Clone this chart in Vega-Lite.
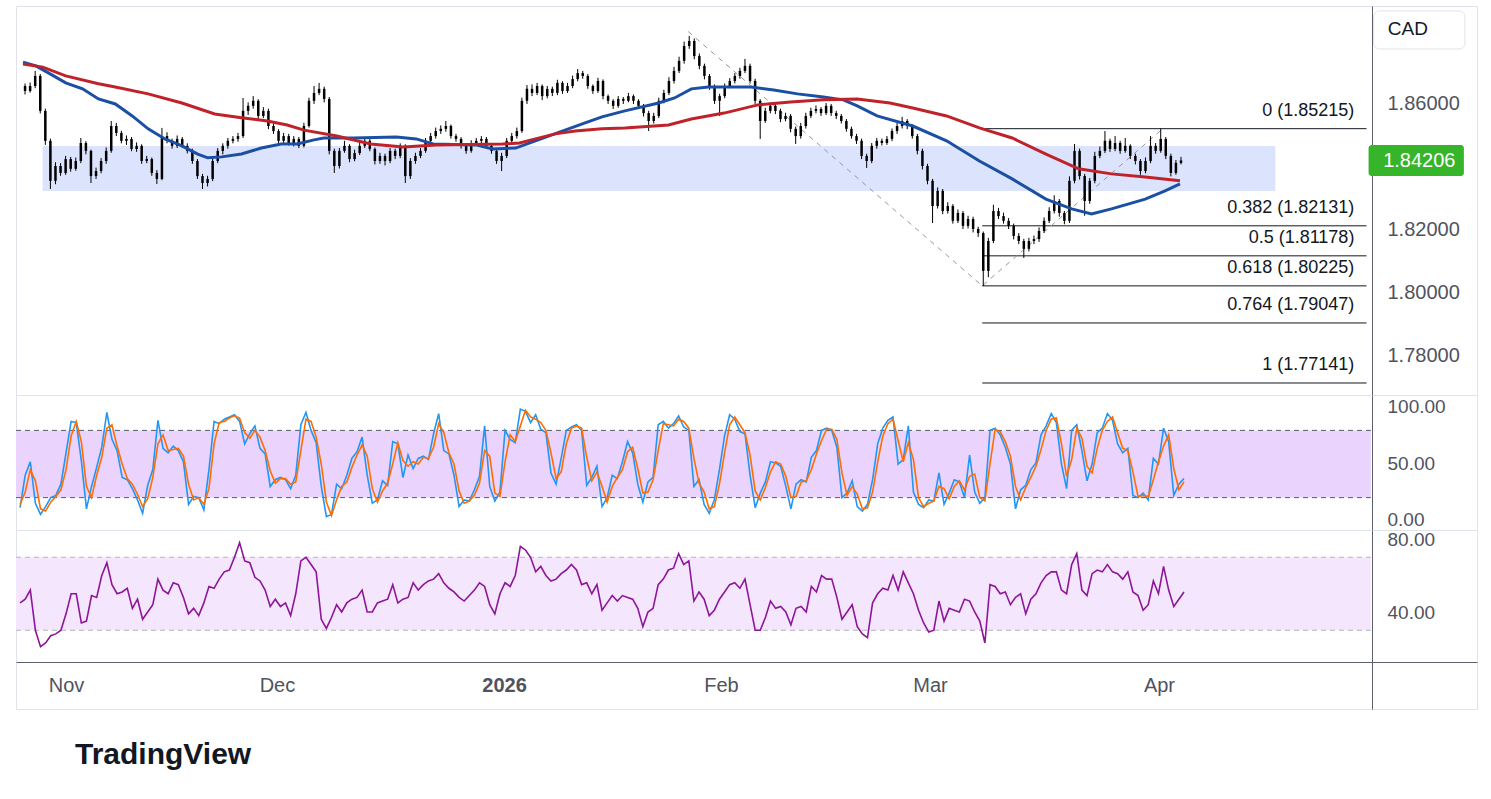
{
"$schema":"https://vega.github.io/schema/vega-lite/v6.json",
"background":"white",
"padding":{"left":15,"top":5,"right":15,"bottom":10},
"autosize":{"type":"pad"},
"bounds":"flush",
"spacing":0,
"config":{"font":"Liberation Sans","view":{"stroke":"#e0e3eb","strokeWidth":1},"concat":{"spacing":0},"axis":{"labelFont":"Liberation Sans","labelFontSize":20,"labelColor":"#50535e","ticks":false,"grid":false,"domainColor":"#5d606b","labelPadding":15,"titleFontSize":0}},
"title":{"text":"TradingView","orient":"bottom","anchor":"start","frame":"bounds","fontSize":30,"fontWeight":"bold","font":"Liberation Sans","color":"#131722","offset":30,"dx":60},
"datasets":{
"fib":[{"p":1.85215,"lab":"0 (1.85215)"},{"p":1.82131,"lab":"0.382 (1.82131)"},{"p":1.81178,"lab":"0.5 (1.81178)"},{"p":1.80225,"lab":"0.618 (1.80225)"},{"p":1.79047,"lab":"0.764 (1.79047)"},{"p":1.77141,"lab":"1 (1.77141)"}],
"ma":[
{"t":-4.7,"v":1.8733,"s":"b"},{"t":-3.43,"v":1.8721,"s":"b"},{"t":-2.16,"v":1.8698,"s":"b"},{"t":-0.49,"v":1.8667,"s":"b"},{"t":1.17,"v":1.8648,"s":"b"},{"t":2.74,"v":1.8616,"s":"b"},{"t":4.4,"v":1.86,"s":"b"},{"t":6.07,"v":1.8562,"s":"b"},{"t":7.64,"v":1.8521,"s":"b"},{"t":9.3,"v":1.8489,"s":"b"},{"t":10.97,"v":1.8467,"s":"b"},{"t":12.53,"v":1.8441,"s":"b"},{"t":13.51,"v":1.8429,"s":"b"},{"t":14.88,"v":1.8432,"s":"b"},{"t":16.84,"v":1.8441,"s":"b"},{"t":18.8,"v":1.846,"s":"b"},{"t":20.76,"v":1.8473,"s":"b"},{"t":22.33,"v":1.8473,"s":"b"},{"t":24.0,"v":1.8486,"s":"b"},{"t":24.97,"v":1.8492,"s":"b"},{"t":27.91,"v":1.8492,"s":"b"},{"t":32.12,"v":1.8495,"s":"b"},{"t":34.08,"v":1.8489,"s":"b"},{"t":35.75,"v":1.8473,"s":"b"},{"t":39.96,"v":1.847,"s":"b"},{"t":41.62,"v":1.8457,"s":"b"},{"t":43.88,"v":1.846,"s":"b"},{"t":45.83,"v":1.8483,"s":"b"},{"t":48.48,"v":1.8514,"s":"b"},{"t":50.73,"v":1.854,"s":"b"},{"t":52.4,"v":1.8559,"s":"b"},{"t":54.65,"v":1.8578,"s":"b"},{"t":57.98,"v":1.8603,"s":"b"},{"t":59.55,"v":1.8619,"s":"b"},{"t":61.21,"v":1.8648,"s":"b"},{"t":62.88,"v":1.8654,"s":"b"},{"t":67.09,"v":1.8654,"s":"b"},{"t":69.34,"v":1.8644,"s":"b"},{"t":71.69,"v":1.8632,"s":"b"},{"t":74.24,"v":1.8622,"s":"b"},{"t":76.2,"v":1.8613,"s":"b"},{"t":77.57,"v":1.8594,"s":"b"},{"t":79.53,"v":1.8562,"s":"b"},{"t":83.05,"v":1.853,"s":"b"},{"t":86.38,"v":1.8483,"s":"b"},{"t":89.62,"v":1.8419,"s":"b"},{"t":92.85,"v":1.8362,"s":"b"},{"t":96.18,"v":1.8298,"s":"b"},{"t":98.72,"v":1.8267,"s":"b"},{"t":100.68,"v":1.8251,"s":"b"},{"t":102.64,"v":1.8267,"s":"b"},{"t":105.97,"v":1.8298,"s":"b"},{"t":107.93,"v":1.8324,"s":"b"},{"t":109.4,"v":1.8346,"s":"b"},
{"t":-4.7,"v":1.8727,"s":"r"},{"t":-2.75,"v":1.8717,"s":"r"},{"t":-0.49,"v":1.8689,"s":"r"},{"t":2.74,"v":1.8664,"s":"r"},{"t":4.4,"v":1.8654,"s":"r"},{"t":7.64,"v":1.8632,"s":"r"},{"t":10.97,"v":1.8603,"s":"r"},{"t":14.2,"v":1.8568,"s":"r"},{"t":16.84,"v":1.8556,"s":"r"},{"t":19.39,"v":1.8546,"s":"r"},{"t":21.35,"v":1.8533,"s":"r"},{"t":23.01,"v":1.8517,"s":"r"},{"t":26.25,"v":1.8498,"s":"r"},{"t":29.58,"v":1.8473,"s":"r"},{"t":32.81,"v":1.8463,"s":"r"},{"t":36.04,"v":1.847,"s":"r"},{"t":42.6,"v":1.8473,"s":"r"},{"t":44.27,"v":1.8476,"s":"r"},{"t":45.83,"v":1.8489,"s":"r"},{"t":47.79,"v":1.8505,"s":"r"},{"t":49.75,"v":1.8514,"s":"r"},{"t":52.4,"v":1.8521,"s":"r"},{"t":54.65,"v":1.8524,"s":"r"},{"t":58.96,"v":1.8533,"s":"r"},{"t":61.21,"v":1.8552,"s":"r"},{"t":64.44,"v":1.8571,"s":"r"},{"t":67.77,"v":1.8597,"s":"r"},{"t":71.0,"v":1.8606,"s":"r"},{"t":74.24,"v":1.8613,"s":"r"},{"t":77.57,"v":1.8616,"s":"r"},{"t":80.8,"v":1.8603,"s":"r"},{"t":83.05,"v":1.8587,"s":"r"},{"t":86.38,"v":1.8562,"s":"r"},{"t":89.62,"v":1.8524,"s":"r"},{"t":92.85,"v":1.8492,"s":"r"},{"t":96.18,"v":1.8441,"s":"r"},{"t":99.41,"v":1.8394,"s":"r"},{"t":102.64,"v":1.8378,"s":"r"},{"t":105.97,"v":1.8368,"s":"r"},{"t":109.4,"v":1.8356,"s":"r"}],
"c":[
{"t":-4.5,"o":1.8657,"h":1.8665,"l":1.8630,"c":1.8641,"k":11,"d":14,"r":45},
{"t":-4,"o":1.8641,"h":1.8668,"l":1.8636,"c":1.8657,"k":40,"d":25,"r":47},
{"t":-3.5,"o":1.8657,"h":1.8705,"l":1.8650,"c":1.8689,"k":52,"d":45,"r":52},
{"t":-3,"o":1.8689,"h":1.8695,"l":1.8570,"c":1.8578,"k":15,"d":35,"r":30},
{"t":-2.5,"o":1.8578,"h":1.8585,"l":1.8470,"c":1.8483,"k":5,"d":10,"r":21},
{"t":-2,"o":1.8483,"h":1.8490,"l":1.8330,"c":1.8356,"k":12,"d":8,"r":23},
{"t":-1.5,"o":1.8356,"h":1.8415,"l":1.8345,"c":1.8403,"k":20,"d":16,"r":27},
{"t":-1,"o":1.8403,"h":1.8412,"l":1.8372,"c":1.8381,"k":22,"d":21,"r":28},
{"t":-0.5,"o":1.8381,"h":1.8435,"l":1.8375,"c":1.8425,"k":32,"d":27,"r":30},
{"t":0,"o":1.8425,"h":1.8432,"l":1.8385,"c":1.8394,"k":60,"d":45,"r":39},
{"t":0.5,"o":1.8394,"h":1.8430,"l":1.8388,"c":1.8419,"k":88,"d":75,"r":50},
{"t":1,"o":1.8419,"h":1.8492,"l":1.8412,"c":1.8476,"k":87,"d":88,"r":50},
{"t":1.5,"o":1.8476,"h":1.8482,"l":1.8440,"c":1.8451,"k":53,"d":70,"r":34},
{"t":2,"o":1.8451,"h":1.8455,"l":1.8349,"c":1.8371,"k":10,"d":30,"r":35},
{"t":2.5,"o":1.8371,"h":1.8398,"l":1.8362,"c":1.8387,"k":30,"d":20,"r":49},
{"t":3,"o":1.8387,"h":1.8428,"l":1.8380,"c":1.8419,"k":47,"d":40,"r":48},
{"t":3.5,"o":1.8419,"h":1.8462,"l":1.8410,"c":1.8451,"k":65,"d":56,"r":60},
{"t":4,"o":1.8451,"h":1.8546,"l":1.8445,"c":1.8530,"k":96,"d":82,"r":67},
{"t":4.5,"o":1.8530,"h":1.8540,"l":1.8498,"c":1.8508,"k":72,"d":85,"r":55},
{"t":5,"o":1.8508,"h":1.8515,"l":1.8475,"c":1.8483,"k":62,"d":66,"r":50},
{"t":5.5,"o":1.8483,"h":1.8500,"l":1.8470,"c":1.8489,"k":38,"d":50,"r":51},
{"t":6,"o":1.8489,"h":1.8495,"l":1.8450,"c":1.8457,"k":36,"d":37,"r":53},
{"t":6.5,"o":1.8457,"h":1.8478,"l":1.8448,"c":1.8467,"k":28,"d":32,"r":42},
{"t":7,"o":1.8467,"h":1.8472,"l":1.8410,"c":1.8419,"k":18,"d":23,"r":47},
{"t":7.5,"o":1.8419,"h":1.8435,"l":1.8412,"c":1.8425,"k":6,"d":12,"r":36},
{"t":8,"o":1.8425,"h":1.8430,"l":1.8372,"c":1.8381,"k":31,"d":19,"r":40},
{"t":8.5,"o":1.8381,"h":1.8390,"l":1.8346,"c":1.8362,"k":45,"d":38,"r":44},
{"t":9,"o":1.8362,"h":1.8524,"l":1.8358,"c":1.8498,"k":89,"d":68,"r":58},
{"t":9.5,"o":1.8498,"h":1.8510,"l":1.8475,"c":1.8483,"k":64,"d":76,"r":52},
{"t":10,"o":1.8483,"h":1.8490,"l":1.8458,"c":1.8467,"k":60,"d":62,"r":50},
{"t":10.5,"o":1.8467,"h":1.8500,"l":1.8460,"c":1.8489,"k":66,"d":63,"r":56},
{"t":11,"o":1.8489,"h":1.8495,"l":1.8460,"c":1.8467,"k":62,"d":64,"r":55},
{"t":11.5,"o":1.8467,"h":1.8475,"l":1.8443,"c":1.8451,"k":52,"d":57,"r":48},
{"t":12,"o":1.8451,"h":1.8458,"l":1.8410,"c":1.8419,"k":14,"d":32,"r":39},
{"t":12.5,"o":1.8419,"h":1.8425,"l":1.8362,"c":1.8371,"k":21,"d":18,"r":42},
{"t":13,"o":1.8371,"h":1.8378,"l":1.8330,"c":1.8349,"k":20,"d":20,"r":38},
{"t":13.5,"o":1.8349,"h":1.8372,"l":1.8338,"c":1.8362,"k":9,"d":14,"r":45},
{"t":14,"o":1.8362,"h":1.8428,"l":1.8355,"c":1.8419,"k":45,"d":28,"r":54},
{"t":14.5,"o":1.8419,"h":1.8460,"l":1.8412,"c":1.8451,"k":88,"d":68,"r":53},
{"t":15,"o":1.8451,"h":1.8475,"l":1.8440,"c":1.8467,"k":86,"d":87,"r":58},
{"t":15.5,"o":1.8467,"h":1.8492,"l":1.8458,"c":1.8483,"k":90,"d":88,"r":62},
{"t":16,"o":1.8483,"h":1.8498,"l":1.8475,"c":1.8489,"k":92,"d":91,"r":63},
{"t":16.5,"o":1.8489,"h":1.8508,"l":1.8480,"c":1.8498,"k":94,"d":93,"r":70},
{"t":17,"o":1.8498,"h":1.8619,"l":1.8492,"c":1.8578,"k":88,"d":91,"r":78},
{"t":17.5,"o":1.8578,"h":1.8605,"l":1.8565,"c":1.8594,"k":68,"d":78,"r":68},
{"t":18,"o":1.8594,"h":1.8625,"l":1.8585,"c":1.8610,"k":77,"d":73,"r":67},
{"t":18.5,"o":1.8610,"h":1.8615,"l":1.8552,"c":1.8562,"k":84,"d":80,"r":59},
{"t":19,"o":1.8562,"h":1.8590,"l":1.8555,"c":1.8578,"k":64,"d":74,"r":57},
{"t":19.5,"o":1.8578,"h":1.8585,"l":1.8520,"c":1.8530,"k":59,"d":62,"r":52},
{"t":20,"o":1.8530,"h":1.8538,"l":1.8505,"c":1.8514,"k":30,"d":44,"r":43},
{"t":20.5,"o":1.8514,"h":1.8520,"l":1.8470,"c":1.8483,"k":36,"d":33,"r":47},
{"t":21,"o":1.8483,"h":1.8508,"l":1.8475,"c":1.8498,"k":38,"d":37,"r":43},
{"t":21.5,"o":1.8498,"h":1.8505,"l":1.8468,"c":1.8476,"k":36,"d":37,"r":45},
{"t":22,"o":1.8476,"h":1.8498,"l":1.8465,"c":1.8489,"k":28,"d":32,"r":38},
{"t":22.5,"o":1.8489,"h":1.8495,"l":1.8460,"c":1.8467,"k":40,"d":34,"r":50},
{"t":23,"o":1.8467,"h":1.8540,"l":1.8462,"c":1.8530,"k":85,"d":62,"r":68},
{"t":23.5,"o":1.8530,"h":1.8620,"l":1.8525,"c":1.8610,"k":96,"d":90,"r":70},
{"t":24,"o":1.8610,"h":1.8657,"l":1.8600,"c":1.8635,"k":80,"d":88,"r":66},
{"t":24.5,"o":1.8635,"h":1.8667,"l":1.8628,"c":1.8648,"k":69,"d":74,"r":62},
{"t":25,"o":1.8648,"h":1.8655,"l":1.8605,"c":1.8616,"k":30,"d":50,"r":36},
{"t":25.5,"o":1.8616,"h":1.8622,"l":1.8440,"c":1.8451,"k":3,"d":16,"r":31},
{"t":26,"o":1.8451,"h":1.8458,"l":1.8381,"c":1.8403,"k":5,"d":4,"r":37},
{"t":26.5,"o":1.8403,"h":1.8460,"l":1.8395,"c":1.8451,"k":32,"d":18,"r":44},
{"t":27,"o":1.8451,"h":1.8483,"l":1.8445,"c":1.8467,"k":28,"d":30,"r":40},
{"t":27.5,"o":1.8467,"h":1.8472,"l":1.8415,"c":1.8425,"k":40,"d":34,"r":45},
{"t":28,"o":1.8425,"h":1.8455,"l":1.8418,"c":1.8444,"k":55,"d":47,"r":47},
{"t":28.5,"o":1.8444,"h":1.8478,"l":1.8438,"c":1.8467,"k":61,"d":58,"r":48},
{"t":29,"o":1.8467,"h":1.8492,"l":1.8460,"c":1.8483,"k":74,"d":67,"r":52},
{"t":29.5,"o":1.8483,"h":1.8490,"l":1.8450,"c":1.8457,"k":40,"d":57,"r":40},
{"t":30,"o":1.8457,"h":1.8462,"l":1.8408,"c":1.8419,"k":15,"d":28,"r":40},
{"t":30.5,"o":1.8419,"h":1.8445,"l":1.8410,"c":1.8435,"k":18,"d":16,"r":45},
{"t":31,"o":1.8435,"h":1.8442,"l":1.8405,"c":1.8419,"k":35,"d":26,"r":46},
{"t":31.5,"o":1.8419,"h":1.8460,"l":1.8412,"c":1.8451,"k":31,"d":33,"r":47},
{"t":32,"o":1.8451,"h":1.8458,"l":1.8425,"c":1.8435,"k":70,"d":50,"r":55},
{"t":32.5,"o":1.8435,"h":1.8475,"l":1.8428,"c":1.8467,"k":68,"d":69,"r":45},
{"t":33,"o":1.8467,"h":1.8472,"l":1.8349,"c":1.8371,"k":38,"d":53,"r":47},
{"t":33.5,"o":1.8371,"h":1.8428,"l":1.8362,"c":1.8419,"k":58,"d":48,"r":48},
{"t":34,"o":1.8419,"h":1.8445,"l":1.8410,"c":1.8435,"k":46,"d":52,"r":56},
{"t":34.5,"o":1.8435,"h":1.8460,"l":1.8428,"c":1.8451,"k":55,"d":50,"r":52},
{"t":35,"o":1.8451,"h":1.8492,"l":1.8445,"c":1.8483,"k":57,"d":56,"r":55},
{"t":35.5,"o":1.8483,"h":1.8508,"l":1.8475,"c":1.8498,"k":54,"d":55,"r":57},
{"t":36,"o":1.8498,"h":1.8525,"l":1.8490,"c":1.8514,"k":77,"d":65,"r":58},
{"t":36.5,"o":1.8514,"h":1.8532,"l":1.8505,"c":1.8521,"k":95,"d":86,"r":61},
{"t":37,"o":1.8521,"h":1.8546,"l":1.8512,"c":1.8530,"k":62,"d":78,"r":56},
{"t":37.5,"o":1.8530,"h":1.8535,"l":1.8490,"c":1.8498,"k":59,"d":60,"r":53},
{"t":38,"o":1.8498,"h":1.8505,"l":1.8480,"c":1.8489,"k":40,"d":50,"r":51},
{"t":38.5,"o":1.8489,"h":1.8495,"l":1.8458,"c":1.8467,"k":12,"d":26,"r":48},
{"t":39,"o":1.8467,"h":1.8472,"l":1.8442,"c":1.8451,"k":18,"d":15,"r":46},
{"t":39.5,"o":1.8451,"h":1.8485,"l":1.8445,"c":1.8476,"k":17,"d":17,"r":49},
{"t":40,"o":1.8476,"h":1.8492,"l":1.8468,"c":1.8483,"k":27,"d":22,"r":52},
{"t":40.5,"o":1.8483,"h":1.8498,"l":1.8475,"c":1.8489,"k":39,"d":33,"r":56},
{"t":41,"o":1.8489,"h":1.8495,"l":1.8460,"c":1.8467,"k":84,"d":62,"r":54},
{"t":41.5,"o":1.8467,"h":1.8472,"l":1.8442,"c":1.8451,"k":30,"d":57,"r":44},
{"t":42,"o":1.8451,"h":1.8458,"l":1.8410,"c":1.8419,"k":17,"d":24,"r":39},
{"t":42.5,"o":1.8419,"h":1.8445,"l":1.8387,"c":1.8435,"k":25,"d":21,"r":50},
{"t":43,"o":1.8435,"h":1.8492,"l":1.8428,"c":1.8483,"k":80,"d":52,"r":56},
{"t":43.5,"o":1.8483,"h":1.8508,"l":1.8475,"c":1.8498,"k":72,"d":76,"r":54},
{"t":44,"o":1.8498,"h":1.8525,"l":1.8490,"c":1.8514,"k":69,"d":70,"r":60},
{"t":44.5,"o":1.8514,"h":1.8620,"l":1.8508,"c":1.8610,"k":99,"d":84,"r":76},
{"t":45,"o":1.8610,"h":1.8660,"l":1.8600,"c":1.8648,"k":97,"d":98,"r":74},
{"t":45.5,"o":1.8648,"h":1.8662,"l":1.8625,"c":1.8635,"k":87,"d":92,"r":70},
{"t":46,"o":1.8635,"h":1.8667,"l":1.8628,"c":1.8657,"k":94,"d":90,"r":62},
{"t":46.5,"o":1.8657,"h":1.8662,"l":1.8612,"c":1.8625,"k":81,"d":87,"r":65},
{"t":47,"o":1.8625,"h":1.8657,"l":1.8618,"c":1.8648,"k":78,"d":80,"r":60},
{"t":47.5,"o":1.8648,"h":1.8655,"l":1.8625,"c":1.8635,"k":42,"d":60,"r":57},
{"t":48,"o":1.8635,"h":1.8677,"l":1.8628,"c":1.8667,"k":32,"d":37,"r":58},
{"t":48.5,"o":1.8667,"h":1.8672,"l":1.8632,"c":1.8641,"k":55,"d":43,"r":61},
{"t":49,"o":1.8641,"h":1.8667,"l":1.8635,"c":1.8657,"k":80,"d":68,"r":63},
{"t":49.5,"o":1.8657,"h":1.8690,"l":1.8650,"c":1.8679,"k":83,"d":82,"r":66},
{"t":50,"o":1.8679,"h":1.8711,"l":1.8672,"c":1.8698,"k":85,"d":84,"r":63},
{"t":50.5,"o":1.8698,"h":1.8705,"l":1.8680,"c":1.8689,"k":80,"d":82,"r":55},
{"t":51,"o":1.8689,"h":1.8695,"l":1.8648,"c":1.8657,"k":31,"d":56,"r":56},
{"t":51.5,"o":1.8657,"h":1.8662,"l":1.8632,"c":1.8641,"k":38,"d":35,"r":50},
{"t":52,"o":1.8641,"h":1.8683,"l":1.8635,"c":1.8673,"k":48,"d":43,"r":55},
{"t":52.5,"o":1.8673,"h":1.8678,"l":1.8615,"c":1.8625,"k":12,"d":30,"r":41},
{"t":53,"o":1.8625,"h":1.8630,"l":1.8600,"c":1.8610,"k":20,"d":16,"r":45},
{"t":53.5,"o":1.8610,"h":1.8615,"l":1.8584,"c":1.8594,"k":40,"d":30,"r":49},
{"t":54,"o":1.8594,"h":1.8625,"l":1.8588,"c":1.8616,"k":37,"d":38,"r":46},
{"t":54.5,"o":1.8616,"h":1.8622,"l":1.8600,"c":1.8610,"k":52,"d":45,"r":49},
{"t":55,"o":1.8610,"h":1.8635,"l":1.8605,"c":1.8625,"k":70,"d":61,"r":48},
{"t":55.5,"o":1.8625,"h":1.8630,"l":1.8600,"c":1.8610,"k":60,"d":65,"r":47},
{"t":56,"o":1.8610,"h":1.8615,"l":1.8585,"c":1.8594,"k":32,"d":46,"r":42},
{"t":56.5,"o":1.8594,"h":1.8600,"l":1.8560,"c":1.8571,"k":16,"d":24,"r":32},
{"t":57,"o":1.8571,"h":1.8578,"l":1.8514,"c":1.8546,"k":34,"d":25,"r":40},
{"t":57.5,"o":1.8546,"h":1.8572,"l":1.8538,"c":1.8562,"k":38,"d":36,"r":42},
{"t":58,"o":1.8562,"h":1.8620,"l":1.8555,"c":1.8610,"k":85,"d":62,"r":55},
{"t":58.5,"o":1.8610,"h":1.8645,"l":1.8602,"c":1.8635,"k":88,"d":86,"r":58},
{"t":59,"o":1.8635,"h":1.8685,"l":1.8628,"c":1.8673,"k":82,"d":85,"r":63},
{"t":59.5,"o":1.8673,"h":1.8718,"l":1.8665,"c":1.8705,"k":86,"d":84,"r":64},
{"t":60,"o":1.8705,"h":1.8750,"l":1.8698,"c":1.8737,"k":93,"d":90,"r":72},
{"t":60.5,"o":1.8737,"h":1.8798,"l":1.8728,"c":1.8784,"k":83,"d":88,"r":66},
{"t":61,"o":1.8784,"h":1.8816,"l":1.8775,"c":1.8800,"k":80,"d":82,"r":68},
{"t":61.5,"o":1.8800,"h":1.8808,"l":1.8742,"c":1.8752,"k":30,"d":55,"r":46},
{"t":62,"o":1.8752,"h":1.8760,"l":1.8710,"c":1.8721,"k":36,"d":33,"r":51},
{"t":62.5,"o":1.8721,"h":1.8728,"l":1.8678,"c":1.8689,"k":14,"d":25,"r":47},
{"t":63,"o":1.8689,"h":1.8695,"l":1.8645,"c":1.8657,"k":6,"d":10,"r":38},
{"t":63.5,"o":1.8657,"h":1.8662,"l":1.8600,"c":1.8610,"k":18,"d":12,"r":41},
{"t":64,"o":1.8610,"h":1.8632,"l":1.8562,"c":1.8625,"k":45,"d":32,"r":47},
{"t":64.5,"o":1.8625,"h":1.8665,"l":1.8618,"c":1.8657,"k":75,"d":60,"r":51},
{"t":65,"o":1.8657,"h":1.8682,"l":1.8650,"c":1.8673,"k":94,"d":85,"r":55},
{"t":65.5,"o":1.8673,"h":1.8698,"l":1.8665,"c":1.8689,"k":90,"d":92,"r":56},
{"t":66,"o":1.8689,"h":1.8715,"l":1.8680,"c":1.8705,"k":79,"d":85,"r":53},
{"t":66.5,"o":1.8705,"h":1.8743,"l":1.8698,"c":1.8721,"k":77,"d":78,"r":58},
{"t":67,"o":1.8721,"h":1.8728,"l":1.8665,"c":1.8673,"k":40,"d":58,"r":44},
{"t":67.5,"o":1.8673,"h":1.8680,"l":1.8600,"c":1.8610,"k":11,"d":26,"r":30},
{"t":68,"o":1.8610,"h":1.8615,"l":1.8489,"c":1.8546,"k":24,"d":18,"r":30},
{"t":68.5,"o":1.8546,"h":1.8588,"l":1.8540,"c":1.8578,"k":34,"d":29,"r":37},
{"t":69,"o":1.8578,"h":1.8605,"l":1.8570,"c":1.8594,"k":52,"d":43,"r":46},
{"t":69.5,"o":1.8594,"h":1.8600,"l":1.8568,"c":1.8578,"k":51,"d":52,"r":42},
{"t":70,"o":1.8578,"h":1.8585,"l":1.8542,"c":1.8552,"k":48,"d":50,"r":43},
{"t":70.5,"o":1.8552,"h":1.8572,"l":1.8545,"c":1.8562,"k":30,"d":39,"r":40},
{"t":71,"o":1.8562,"h":1.8568,"l":1.8510,"c":1.8521,"k":10,"d":20,"r":33},
{"t":71.5,"o":1.8521,"h":1.8528,"l":1.8473,"c":1.8498,"k":32,"d":21,"r":42},
{"t":72,"o":1.8498,"h":1.8540,"l":1.8490,"c":1.8530,"k":36,"d":34,"r":43},
{"t":72.5,"o":1.8530,"h":1.8572,"l":1.8522,"c":1.8562,"k":34,"d":35,"r":40},
{"t":73,"o":1.8562,"h":1.8588,"l":1.8555,"c":1.8578,"k":56,"d":45,"r":54},
{"t":73.5,"o":1.8578,"h":1.8595,"l":1.8570,"c":1.8584,"k":62,"d":59,"r":51},
{"t":74,"o":1.8584,"h":1.8590,"l":1.8562,"c":1.8571,"k":80,"d":71,"r":60},
{"t":74.5,"o":1.8571,"h":1.8603,"l":1.8565,"c":1.8594,"k":82,"d":81,"r":58},
{"t":75,"o":1.8594,"h":1.8600,"l":1.8562,"c":1.8571,"k":80,"d":81,"r":58},
{"t":75.5,"o":1.8571,"h":1.8578,"l":1.8552,"c":1.8562,"k":65,"d":72,"r":48},
{"t":76,"o":1.8562,"h":1.8568,"l":1.8538,"c":1.8546,"k":20,"d":42,"r":36},
{"t":76.5,"o":1.8546,"h":1.8552,"l":1.8512,"c":1.8521,"k":24,"d":22,"r":40},
{"t":77,"o":1.8521,"h":1.8528,"l":1.8490,"c":1.8498,"k":35,"d":30,"r":44},
{"t":77.5,"o":1.8498,"h":1.8505,"l":1.8473,"c":1.8483,"k":12,"d":23,"r":32},
{"t":78,"o":1.8483,"h":1.8490,"l":1.8425,"c":1.8435,"k":8,"d":10,"r":28},
{"t":78.5,"o":1.8435,"h":1.8442,"l":1.8397,"c":1.8419,"k":14,"d":11,"r":26},
{"t":79,"o":1.8419,"h":1.8476,"l":1.8412,"c":1.8467,"k":36,"d":25,"r":45},
{"t":79.5,"o":1.8467,"h":1.8492,"l":1.8458,"c":1.8483,"k":68,"d":52,"r":50},
{"t":80,"o":1.8483,"h":1.8490,"l":1.8468,"c":1.8476,"k":82,"d":75,"r":53},
{"t":80.5,"o":1.8476,"h":1.8498,"l":1.8470,"c":1.8489,"k":89,"d":86,"r":52},
{"t":81,"o":1.8489,"h":1.8522,"l":1.8482,"c":1.8514,"k":92,"d":90,"r":60},
{"t":81.5,"o":1.8514,"h":1.8540,"l":1.8505,"c":1.8530,"k":50,"d":71,"r":52},
{"t":82,"o":1.8530,"h":1.8559,"l":1.8522,"c":1.8546,"k":54,"d":52,"r":62},
{"t":82.5,"o":1.8546,"h":1.8552,"l":1.8520,"c":1.8530,"k":84,"d":69,"r":56},
{"t":83,"o":1.8530,"h":1.8535,"l":1.8490,"c":1.8498,"k":25,"d":54,"r":50},
{"t":83.5,"o":1.8498,"h":1.8505,"l":1.8440,"c":1.8451,"k":14,"d":20,"r":41},
{"t":84,"o":1.8451,"h":1.8458,"l":1.8392,"c":1.8403,"k":11,"d":12,"r":34},
{"t":84.5,"o":1.8403,"h":1.8410,"l":1.8345,"c":1.8356,"k":18,"d":15,"r":29},
{"t":85,"o":1.8356,"h":1.8362,"l":1.8222,"c":1.8276,"k":17,"d":17,"r":30},
{"t":85.5,"o":1.8276,"h":1.8335,"l":1.8268,"c":1.8324,"k":42,"d":30,"r":46},
{"t":86,"o":1.8324,"h":1.8330,"l":1.8250,"c":1.8260,"k":14,"d":28,"r":35},
{"t":86.5,"o":1.8260,"h":1.8288,"l":1.8252,"c":1.8276,"k":24,"d":19,"r":42},
{"t":87,"o":1.8276,"h":1.8282,"l":1.8220,"c":1.8229,"k":36,"d":30,"r":41},
{"t":87.5,"o":1.8229,"h":1.8265,"l":1.8222,"c":1.8254,"k":34,"d":35,"r":40},
{"t":88,"o":1.8254,"h":1.8260,"l":1.8203,"c":1.8213,"k":20,"d":27,"r":47},
{"t":88.5,"o":1.8213,"h":1.8245,"l":1.8205,"c":1.8235,"k":58,"d":39,"r":46},
{"t":89,"o":1.8235,"h":1.8242,"l":1.8192,"c":1.8203,"k":25,"d":41,"r":40},
{"t":89.5,"o":1.8203,"h":1.8210,"l":1.8178,"c":1.8190,"k":15,"d":20,"r":35},
{"t":90,"o":1.8190,"h":1.8195,"l":1.8022,"c":1.8070,"k":20,"d":17,"r":23},
{"t":90.5,"o":1.8070,"h":1.8175,"l":1.8050,"c":1.8165,"k":80,"d":50,"r":55},
{"t":91,"o":1.8165,"h":1.8280,"l":1.8158,"c":1.8260,"k":82,"d":81,"r":54},
{"t":91.5,"o":1.8260,"h":1.8270,"l":1.8235,"c":1.8244,"k":76,"d":79,"r":50},
{"t":92,"o":1.8244,"h":1.8255,"l":1.8220,"c":1.8229,"k":65,"d":70,"r":51},
{"t":92.5,"o":1.8229,"h":1.8238,"l":1.8203,"c":1.8213,"k":50,"d":57,"r":44},
{"t":93,"o":1.8213,"h":1.8220,"l":1.8170,"c":1.8181,"k":10,"d":30,"r":48},
{"t":93.5,"o":1.8181,"h":1.8190,"l":1.8155,"c":1.8165,"k":27,"d":18,"r":50},
{"t":94,"o":1.8165,"h":1.8172,"l":1.8111,"c":1.8140,"k":31,"d":29,"r":39},
{"t":94.5,"o":1.8140,"h":1.8175,"l":1.8132,"c":1.8165,"k":45,"d":38,"r":47},
{"t":95,"o":1.8165,"h":1.8182,"l":1.8155,"c":1.8171,"k":51,"d":48,"r":50},
{"t":95.5,"o":1.8171,"h":1.8208,"l":1.8162,"c":1.8197,"k":76,"d":63,"r":56},
{"t":96,"o":1.8197,"h":1.8240,"l":1.8190,"c":1.8229,"k":84,"d":80,"r":60},
{"t":96.5,"o":1.8229,"h":1.8272,"l":1.8222,"c":1.8260,"k":95,"d":90,"r":62},
{"t":97,"o":1.8260,"h":1.8310,"l":1.8252,"c":1.8292,"k":87,"d":91,"r":62},
{"t":97.5,"o":1.8292,"h":1.8298,"l":1.8242,"c":1.8254,"k":50,"d":68,"r":52},
{"t":98,"o":1.8254,"h":1.8260,"l":1.8218,"c":1.8229,"k":28,"d":39,"r":50},
{"t":98.5,"o":1.8229,"h":1.8370,"l":1.8222,"c":1.8356,"k":80,"d":54,"r":66},
{"t":99,"o":1.8356,"h":1.8473,"l":1.8348,"c":1.8451,"k":85,"d":82,"r":72},
{"t":99.5,"o":1.8451,"h":1.8458,"l":1.8360,"c":1.8371,"k":62,"d":73,"r":52},
{"t":100,"o":1.8371,"h":1.8378,"l":1.8245,"c":1.8292,"k":35,"d":48,"r":49},
{"t":100.5,"o":1.8292,"h":1.8365,"l":1.8283,"c":1.8356,"k":50,"d":42,"r":61},
{"t":101,"o":1.8356,"h":1.8448,"l":1.8348,"c":1.8435,"k":78,"d":64,"r":63},
{"t":101.5,"o":1.8435,"h":1.8465,"l":1.8428,"c":1.8451,"k":82,"d":80,"r":62},
{"t":102,"o":1.8451,"h":1.8514,"l":1.8444,"c":1.8483,"k":95,"d":88,"r":66},
{"t":102.5,"o":1.8483,"h":1.8490,"l":1.8448,"c":1.8457,"k":89,"d":92,"r":62},
{"t":103,"o":1.8457,"h":1.8498,"l":1.8450,"c":1.8476,"k":68,"d":78,"r":61},
{"t":103.5,"o":1.8476,"h":1.8483,"l":1.8442,"c":1.8451,"k":60,"d":64,"r":58},
{"t":104,"o":1.8451,"h":1.8492,"l":1.8445,"c":1.8467,"k":64,"d":62,"r":62},
{"t":104.5,"o":1.8467,"h":1.8472,"l":1.8425,"c":1.8435,"k":22,"d":43,"r":51},
{"t":105,"o":1.8435,"h":1.8442,"l":1.8408,"c":1.8419,"k":20,"d":21,"r":49},
{"t":105.5,"o":1.8419,"h":1.8425,"l":1.8375,"c":1.8387,"k":24,"d":22,"r":41},
{"t":106,"o":1.8387,"h":1.8430,"l":1.8380,"c":1.8419,"k":18,"d":21,"r":44},
{"t":106.5,"o":1.8419,"h":1.8498,"l":1.8412,"c":1.8467,"k":55,"d":36,"r":57},
{"t":107,"o":1.8467,"h":1.8476,"l":1.8442,"c":1.8451,"k":50,"d":52,"r":50},
{"t":107.5,"o":1.8451,"h":1.85215,"l":1.8445,"c":1.8489,"k":82,"d":66,"r":65},
{"t":108,"o":1.8489,"h":1.8495,"l":1.8425,"c":1.8435,"k":70,"d":76,"r":52},
{"t":108.5,"o":1.8435,"h":1.8442,"l":1.8370,"c":1.8381,"k":22,"d":46,"r":43},
{"t":109,"o":1.8381,"h":1.8422,"l":1.8375,"c":1.8413,"k":32,"d":27,"r":47},
{"t":109.5,"o":1.8413,"h":1.8432,"l":1.8408,"c":1.84206,"k":37,"d":34,"r":51}]
},
"vconcat":[
{"width":1461,"height":389,
"layer":[
{"data":{"values":[{"x1":-2.77,"x2":118.8,"y1":1.83238,"y2":1.84667}]},"mark":{"type":"rect","color":"#dbe3fd"},
"encoding":{"x":{"field":"x1","type":"quantitative","scale":{"domain":[-4.9,138.2],"zero":false,"nice":false},"axis":null},"x2":{"field":"x2"},
"y":{"field":"y1","type":"quantitative","scale":{"domain":[1.7676,1.8911],"zero":false,"nice":false},"axis":{"orient":"right","offset":-105,"values":[1.78,1.8,1.82,1.86],"format":".5f","title":null,"labelPadding":15}},"y2":{"field":"y2"}}},
{"data":{"name":"fib"},"mark":{"type":"rule","color":"#131722","strokeWidth":1},
"encoding":{"x":{"datum":89.9,"type":"quantitative","scale":{"domain":[-4.9,138.2],"zero":false,"nice":false},"axis":null},"x2":{"datum":127.8},"y":{"field":"p","type":"quantitative","scale":{"domain":[1.7676,1.8911],"zero":false,"nice":false}}}},
{"data":{"name":"fib"},"mark":{"type":"text","align":"right","baseline":"middle","dy":-18,"fontSize":18,"color":"#131722"},
"encoding":{"x":{"datum":126.6,"type":"quantitative","scale":{"domain":[-4.9,138.2],"zero":false,"nice":false},"axis":null},"y":{"field":"p","type":"quantitative","scale":{"domain":[1.7676,1.8911],"zero":false,"nice":false}},"text":{"field":"lab"}}},
{"data":{"values":[{"t":60.9,"p":1.88299,"n":1},{"t":89.9,"p":1.80225,"n":2},{"t":107.7,"p":1.85215,"n":3}]},"mark":{"type":"line","color":"#9598a1","strokeWidth":1,"strokeDash":[5,5]},
"encoding":{"x":{"field":"t","type":"quantitative","scale":{"domain":[-4.9,138.2],"zero":false,"nice":false},"axis":null},"y":{"field":"p","type":"quantitative","scale":{"domain":[1.7676,1.8911],"zero":false,"nice":false}},"order":{"field":"n"}}},
{"data":{"name":"c"},"mark":{"type":"rule","color":"#000000","strokeWidth":1},
"encoding":{"x":{"field":"t","type":"quantitative","scale":{"domain":[-4.9,138.2],"zero":false,"nice":false},"axis":null},"y":{"field":"l","type":"quantitative","scale":{"domain":[1.7676,1.8911],"zero":false,"nice":false}},"y2":{"field":"h"}}},
{"data":{"name":"c"},"mark":{"type":"bar","color":"#000000","size":2.5},
"encoding":{"x":{"field":"t","type":"quantitative","scale":{"domain":[-4.9,138.2],"zero":false,"nice":false},"axis":null},"y":{"field":"o","type":"quantitative","scale":{"domain":[1.7676,1.8911],"zero":false,"nice":false}},"y2":{"field":"c"}}},
{"data":{"name":"ma"},"mark":{"type":"line","strokeWidth":3},
"encoding":{"x":{"field":"t","type":"quantitative","scale":{"domain":[-4.9,138.2],"zero":false,"nice":false},"axis":null},"y":{"field":"v","type":"quantitative","scale":{"domain":[1.7676,1.8911],"zero":false,"nice":false}},"color":{"field":"s","type":"nominal","scale":{"domain":["b","r"],"range":["#1b4fa3","#c0222a"]},"legend":null}}},
{"data":{"values":[{"x1":128,"x2":137.4,"y1":1.83714,"y2":1.84698}]},"mark":{"type":"rect","color":"#36b52b","cornerRadius":3},
"encoding":{"x":{"field":"x1","type":"quantitative","scale":{"domain":[-4.9,138.2],"zero":false,"nice":false},"axis":null},"x2":{"field":"x2"},"y":{"field":"y1","type":"quantitative","scale":{"domain":[1.7676,1.8911],"zero":false,"nice":false}},"y2":{"field":"y2"}}},
{"data":{"values":[{"x":133.0,"y":1.8418,"s":"1.84206"}]},"mark":{"type":"text","color":"#ffffff","fontSize":20,"align":"center","baseline":"middle"},
"encoding":{"x":{"field":"x","type":"quantitative","scale":{"domain":[-4.9,138.2],"zero":false,"nice":false},"axis":null},"y":{"field":"y","type":"quantitative","scale":{"domain":[1.7676,1.8911],"zero":false,"nice":false}},"text":{"field":"s"}}},
{"data":{"values":[{"x1":128.5,"x2":137.5,"y1":1.87746,"y2":1.88953}]},"mark":{"type":"rect","fill":"#ffffff","stroke":"#e0e3eb","strokeWidth":1,"cornerRadius":6},
"encoding":{"x":{"field":"x1","type":"quantitative","scale":{"domain":[-4.9,138.2],"zero":false,"nice":false},"axis":null},"x2":{"field":"x2"},"y":{"field":"y1","type":"quantitative","scale":{"domain":[1.7676,1.8911],"zero":false,"nice":false}},"y2":{"field":"y2"}}},
{"data":{"values":[{"x":129.9,"y":1.8838,"s":"CAD"}]},"mark":{"type":"text","color":"#131722","fontSize":19,"align":"left","baseline":"middle"},
"encoding":{"x":{"field":"x","type":"quantitative","scale":{"domain":[-4.9,138.2],"zero":false,"nice":false},"axis":null},"y":{"field":"y","type":"quantitative","scale":{"domain":[1.7676,1.8911],"zero":false,"nice":false}},"text":{"field":"s"}}}
]},
{"width":1461,"height":135,
"layer":[
{"data":{"values":[{"x1":-4.9,"x2":127.8,"y1":20,"y2":80}]},"mark":{"type":"rect","color":"#ead3fd"},
"encoding":{"x":{"field":"x1","type":"quantitative","scale":{"domain":[-4.9,138.2],"zero":false,"nice":false},"axis":null},"x2":{"field":"x2"},
"y":{"field":"y1","type":"quantitative","scale":{"domain":[-8.9,111.6],"zero":false,"nice":false},"axis":{"orient":"right","offset":-105,"values":[0,50,100],"format":".2f","title":null,"labelPadding":15,"labelOverlap":false,"labelFontSize":19,"labelOffset":-1}},"y2":{"field":"y2"}}},
{"data":{"values":[{"v":20},{"v":80}]},"mark":{"type":"rule","color":"#555a66","strokeWidth":1,"strokeDash":[5,4]},
"encoding":{"x":{"datum":-4.9,"type":"quantitative","scale":{"domain":[-4.9,138.2],"zero":false,"nice":false},"axis":null},"x2":{"datum":127.8},"y":{"field":"v","type":"quantitative","scale":{"domain":[-8.9,111.6],"zero":false,"nice":false}}}},
{"data":{"name":"c"},"mark":{"type":"line","color":"#2196f3","strokeWidth":1.6},
"encoding":{"x":{"field":"t","type":"quantitative","scale":{"domain":[-4.9,138.2],"zero":false,"nice":false},"axis":null},"y":{"field":"k","type":"quantitative","scale":{"domain":[-8.9,111.6],"zero":false,"nice":false}}}},
{"data":{"name":"c"},"mark":{"type":"line","color":"#ff6d00","strokeWidth":1.6},
"encoding":{"x":{"field":"t","type":"quantitative","scale":{"domain":[-4.9,138.2],"zero":false,"nice":false},"axis":null},"y":{"field":"d","type":"quantitative","scale":{"domain":[-8.9,111.6],"zero":false,"nice":false}}}}
]},
{"width":1461,"height":179,
"layer":[
{"data":{"values":[{"x1":-4.9,"x2":127.8,"y1":30,"y2":70}]},"mark":{"type":"rect","color":"#f4e7fd"},
"encoding":{"x":{"field":"x1","type":"quantitative","scale":{"domain":[-4.9,138.2],"zero":false,"nice":false},
"axis":{"orient":"bottom","offset":-47,"values":[0,20.66,42.9,64.15,84.62,107.05],"labelExpr":"datum.value < 10 ? 'Nov' : datum.value < 30 ? 'Dec' : datum.value < 50 ? '2026' : datum.value < 70 ? 'Feb' : datum.value < 90 ? 'Mar' : 'Apr'","title":null,"labelPadding":13,"labelFlush":false,"labelOverlap":false,"labelFontWeight":{"condition":{"test":"datum.value > 40 && datum.value < 50","value":"bold"},"value":"normal"}}},"x2":{"field":"x2"},
"y":{"field":"y1","type":"quantitative","scale":{"domain":[-13.15,84.93],"zero":false,"nice":false},"axis":{"orient":"right","offset":-105,"values":[40,80],"format":".2f","title":null,"labelPadding":15,"labelOverlap":false,"labelFontSize":19,"labelOffset":1}},"y2":{"field":"y2"}}},
{"data":{"values":[{"v":30},{"v":70}]},"mark":{"type":"rule","color":"#b2b5be","strokeWidth":1,"strokeDash":[5,4]},
"encoding":{"x":{"datum":-4.9,"type":"quantitative","scale":{"domain":[-4.9,138.2],"zero":false,"nice":false}},"x2":{"datum":127.8},"y":{"field":"v","type":"quantitative","scale":{"domain":[-13.15,84.93],"zero":false,"nice":false}}}},
{"data":{"name":"c"},"mark":{"type":"line","color":"#8e1599","strokeWidth":1.6},
"encoding":{"x":{"field":"t","type":"quantitative","scale":{"domain":[-4.9,138.2],"zero":false,"nice":false}},"y":{"field":"r","type":"quantitative","scale":{"domain":[-13.15,84.93],"zero":false,"nice":false}}}}
]}
]
}
